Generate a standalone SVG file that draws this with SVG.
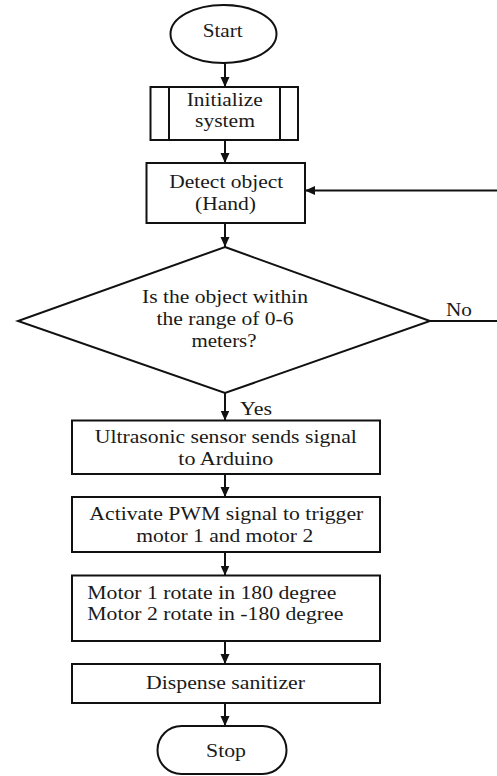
<svg xmlns="http://www.w3.org/2000/svg" width="497" height="776" viewBox="0 0 497 776" font-family="Liberation Serif, serif" font-size="19">
<style>
.s{fill:#fff;stroke:#111;stroke-width:2}
.l{fill:none;stroke:#111;stroke-width:2}
.c{stroke:#111;stroke-width:2;fill:none}
.t{fill:#1a1a1a}
.m{text-anchor:middle}
</style>
<defs>
<marker id="arr" markerUnits="userSpaceOnUse" markerWidth="10" markerHeight="10" viewBox="0 0 10 10" refX="10" refY="5" orient="auto">
<path d="M0,0.5 L10,5 L0,9.5 z" fill="#111"/>
</marker>
</defs>
<rect width="497" height="776" fill="#fff"/>
<g id="connectors">
<line class="c" x1="225" y1="63" x2="225" y2="87" marker-end="url(#arr)"/>
<line class="c" x1="225" y1="140" x2="225" y2="163" marker-end="url(#arr)"/>
<line class="c" x1="225" y1="223" x2="225" y2="247" marker-end="url(#arr)"/>
<line class="c" x1="225" y1="393" x2="225" y2="420.5" marker-end="url(#arr)"/>
<line class="c" x1="225" y1="474" x2="225" y2="497" marker-end="url(#arr)"/>
<line class="c" x1="225" y1="552" x2="225" y2="575.5" marker-end="url(#arr)"/>
<line class="c" x1="225" y1="641" x2="225" y2="664" marker-end="url(#arr)"/>
<line class="c" x1="225" y1="703" x2="225" y2="726" marker-end="url(#arr)"/>
<line class="c" x1="430" y1="321" x2="497" y2="321"/>
<line class="c" x1="497" y1="190.5" x2="305" y2="190.5" marker-end="url(#arr)"/>
<text class="t" x="446" y="316" textLength="26" lengthAdjust="spacingAndGlyphs">No</text>
<text class="t" x="240" y="415" textLength="32" lengthAdjust="spacingAndGlyphs">Yes</text>
</g>
<g id="start">
<ellipse class="s" cx="223.5" cy="34" rx="53" ry="29"/>
<text class="t m" x="222.7" y="37" textLength="40" lengthAdjust="spacingAndGlyphs">Start</text>
</g>
<g id="init">
<rect class="s" x="150.5" y="87" width="147.5" height="53"/>
<line class="l" x1="169" y1="87" x2="169" y2="140"/>
<line class="l" x1="280" y1="87" x2="280" y2="140"/>
<text class="t m" x="224.7" y="106" textLength="76" lengthAdjust="spacingAndGlyphs">Initialize</text>
<text class="t m" x="225" y="127" textLength="60" lengthAdjust="spacingAndGlyphs">system</text>
</g>
<g id="detect">
<rect class="s" x="146.5" y="163" width="158.5" height="60"/>
<text class="t m" x="226.3" y="188" textLength="114" lengthAdjust="spacingAndGlyphs">Detect object</text>
<text class="t m" x="225.5" y="210" textLength="61" lengthAdjust="spacingAndGlyphs">(Hand)</text>
</g>
<g id="decision">
<polygon class="s" points="225,247 430,321 225,393 18,321"/>
<text class="t m" x="225" y="303" textLength="166" lengthAdjust="spacingAndGlyphs">Is the object within</text>
<text class="t m" x="225" y="325" textLength="137" lengthAdjust="spacingAndGlyphs">the range of 0-6</text>
<text class="t m" x="224" y="347" textLength="65" lengthAdjust="spacingAndGlyphs">meters?</text>
</g>
<g id="ultrasonic">
<rect class="s" x="72" y="420.5" width="308" height="53.5"/>
<text class="t m" x="225.8" y="443" textLength="262" lengthAdjust="spacingAndGlyphs">Ultrasonic sensor sends signal</text>
<text class="t m" x="225.8" y="465" textLength="95" lengthAdjust="spacingAndGlyphs">to Arduino</text>
</g>
<g id="pwm">
<rect class="s" x="72" y="497" width="308" height="55"/>
<text class="t m" x="226.3" y="520" textLength="274" lengthAdjust="spacingAndGlyphs">Activate PWM signal to trigger</text>
<text class="t m" x="224.7" y="542" textLength="177" lengthAdjust="spacingAndGlyphs">motor 1 and motor 2</text>
</g>
<g id="motors">
<rect class="s" x="72" y="575.5" width="308" height="65.5"/>
<text class="t" x="87.3" y="599" textLength="249" lengthAdjust="spacingAndGlyphs">Motor 1 rotate in 180 degree</text>
<text class="t" x="87.3" y="620" textLength="256" lengthAdjust="spacingAndGlyphs">Motor 2 rotate in -180 degree</text>
</g>
<g id="dispense">
<rect class="s" x="72" y="664" width="308" height="39"/>
<text class="t m" x="225.5" y="689" textLength="159" lengthAdjust="spacingAndGlyphs">Dispense sanitizer</text>
</g>
<g id="stop">
<rect class="s" x="157.5" y="726" width="129" height="48" rx="24" ry="24"/>
<text class="t m" x="226" y="757" textLength="40" lengthAdjust="spacingAndGlyphs">Stop</text>
</g>
</svg>
